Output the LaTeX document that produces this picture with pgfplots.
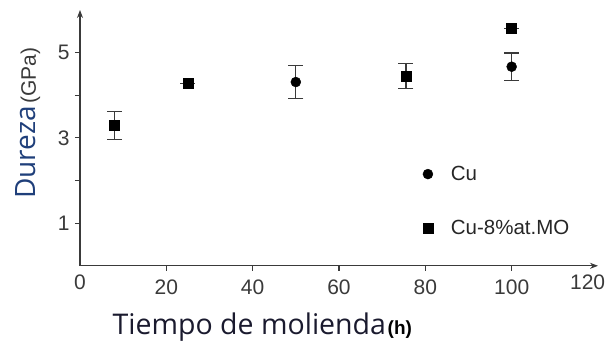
\documentclass[border=0pt]{standalone}
\usepackage{pgfplots}
\pgfplotsset{compat=1.18}
\usepackage{fontspec}
\setmainfont{Liberation Sans}
\newfontfamily\titlefont{Open Sans}
\definecolor{axisgray}{HTML}{3A3A3A}
\definecolor{dureza}{HTML}{1F3F7A}
\definecolor{tiempo}{HTML}{1A1A2E}
\usetikzlibrary{arrows.meta}
\begin{document}
\begin{tikzpicture}
\useasboundingbox (-80pt,-85.2pt) rectangle (533pt,265.8pt);
\begin{axis}[
  scale only axis,
  width=518pt, height=255.8pt,
  xmin=0, xmax=120, ymin=0, ymax=6,
  axis lines=left,
  axis line style={axisgray, line width=1.1pt},
  x axis line style={-{Stealth[length=8pt,width=6pt]}},
  y axis line style={-{Stealth[length=8pt,width=6pt]}},
  tick align=outside,
  major tick length=5pt,
  tick style={axisgray, line width=1.1pt},
  xtick={20,40,60,80,100},
  extra x ticks={0,117.6},
  extra x tick labels={0,120},
  extra x tick style={major tick length=0pt},
  ytick={1,2,3,4,5},
  yticklabels={1,,3,,5},
  ticklabel style={font=\fontsize{21}{24}\selectfont, text=axisgray},
  /pgf/number format/assume math mode=true,
  xticklabel style={yshift=-6pt},
  yticklabel style={xshift=-2pt},
  xlabel={{\color{tiempo}\titlefont\fontsize{28.5}{32}\selectfont Tiempo de molienda}\,{\fontsize{19}{22}\selectfont\bfseries (h)}},
  xlabel style={at={(axis description cs:0.352,-0.2705)}, anchor=base},
  ylabel={{\color{dureza}\titlefont\fontsize{28}{32}\selectfont Dureza}\ {\color{axisgray}\fontsize{21}{24}\selectfont (GPa)}},
  ylabel style={at={(axis description cs:-0.1004,0.558)}, anchor=center, rotate=0},
  legend style={draw=none, fill=none, at={(axis cs:78.7,1.52)}, anchor=west,
    font=\fontsize{20.5}{23}\selectfont, row sep=34pt, column sep=16pt, text=black!85},
  legend cell align=left,
]
\addplot+[only marks, mark=*, mark size=5pt, black, mark options={fill=black},
  error bars/.cd, y dir=both, y explicit,
  error bar style={axisgray, line width=1.2pt},
  error mark options={rotate=90, mark size=7.5pt, line width=1.2pt, axisgray}]
  coordinates {
  (50,4.31) +- (0,0.39)
  (100,4.67) +- (0,0.32)
};
\addlegendentry{Cu}
\addplot+[only marks, mark=square*, mark size=5pt, black, mark options={fill=black},
  error bars/.cd, y dir=both, y explicit,
  error bar style={axisgray, line width=1.2pt},
  error mark options={rotate=90, mark size=7.5pt, line width=1.2pt, axisgray}]
  coordinates {
  (8,3.29) +- (0,0.32)
  (25,4.28) +- (0,0.0)
  (75.5,4.45) +- (0,0.30)
  (100,5.57) +- (0,0.0)
};
\addlegendentry{Cu-8\%at.MO}
\end{axis}
\end{tikzpicture}
\end{document}
